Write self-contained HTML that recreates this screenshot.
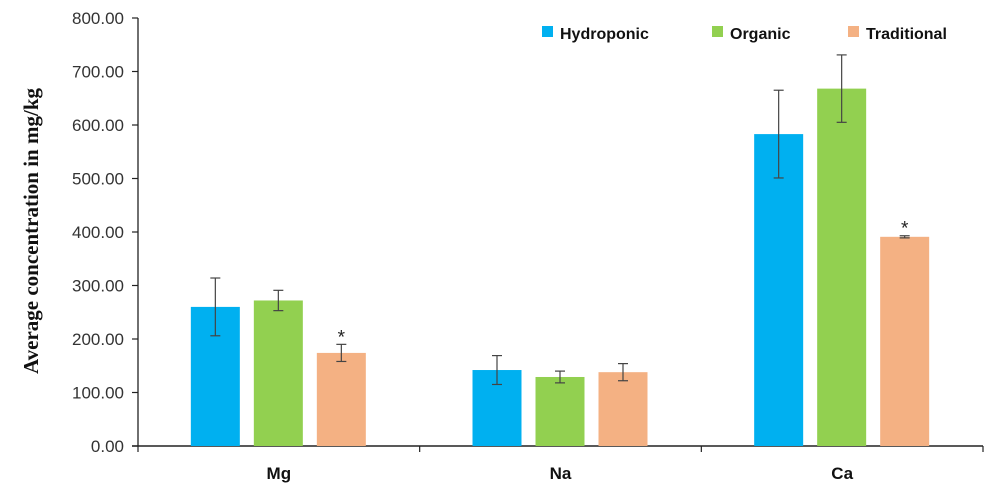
<!DOCTYPE html>
<html><head><meta charset="utf-8"><style>
html,body{margin:0;padding:0;background:#fff;width:1000px;height:486px;overflow:hidden}
svg text{font-family:"Liberation Sans",sans-serif}
</style></head><body>
<svg id="chart" width="1000" height="486" viewBox="0 0 1000 486" xmlns="http://www.w3.org/2000/svg"></svg>
<script>
const categories = ["Mg","Na","Ca"];
const seriesNames = ["Hydroponic","Organic","Traditional"];
const hydroponic = [260, 142, 583];
const organic = [272, 129, 668];
const traditional = [174, 138, 391];
const hydroponicErr = [54, 27, 82];
const organicErr = [19, 11, 63];
const traditionalErr = [16, 16, 2];
const significant = [true, false, true];
const yTicks = [0,100,200,300,400,500,600,700,800];
const yTickLabels = ["0.00","100.00","200.00","300.00","400.00","500.00","600.00","700.00","800.00"];

const NS="http://www.w3.org/2000/svg";
const svg=document.getElementById('chart');
const x0=138, x1=983, yBase=446, yTop=18, yMax=800;
const colors=["#00b0f0","#92d050","#f4b183"];
const series=[hydroponic,organic,traditional];
const errs=[hydroponicErr,organicErr,traditionalErr];
function yScale(v){return yBase-(v/yMax)*(yBase-yTop);}
const groupW=(x1-x0)/categories.length;
function groupStart(i){return x0+i*groupW;}
const barW=49, stride=63;
function barX(ci,si){return groupStart(ci)+groupW/2-88+si*stride;}
function mk(tag,attrs,parent){const e=document.createElementNS(NS,tag);for(const k in attrs)e.setAttribute(k,attrs[k]);(parent||svg).appendChild(e);return e;}

let g=mk('g',{});


mk('line',{x1:x0,y1:yTop,x2:x0,y2:yBase,stroke:'#222','stroke-width':1.3},g);
yTicks.forEach((v,i)=>{
  const y=yScale(v);
  mk('line',{x1:x0-6,y1:y,x2:x0,y2:y,stroke:'#222','stroke-width':1.2},g);
  const t=mk('text',{x:124,y:y+6,'text-anchor':'end','font-size':17,fill:'#333'},g);
  
  
  t.textContent=yTickLabels[i];
});
let gx=mk('g',{});


mk('line',{x1:x0-6,y1:yBase,x2:x1,y2:yBase,stroke:'#222','stroke-width':1.5},gx);
for(let i=0;i<=categories.length;i++){
  const x=groupStart(i);
  mk('line',{x1:x,y1:yBase,x2:x,y2:yBase+6,stroke:'#222','stroke-width':1.2},gx);
}
categories.forEach((c,i)=>{
  const t=mk('text',{x:groupStart(i)+groupW/2,y:479,'text-anchor':'middle','font-size':17,'font-weight':'bold',fill:'#111'},gx);
  
  
  t.textContent=c;
});
categories.forEach((c,ci)=>{
  series.forEach((s,si)=>{
    const x=barX(ci,si), y=yScale(s[ci]);
    const r=mk('rect',{x:x,y:y,width:barW,height:yBase-y,fill:colors[si]});
    
    
    const cx=x+barW/2, e=errs[si][ci];
    const ge=mk('g',{stroke:'#444','stroke-width':1.2});
    
    
    mk('line',{x1:cx,y1:yScale(s[ci]+e),x2:cx,y2:yScale(s[ci]-e)},ge);
    mk('line',{x1:cx-5,y1:yScale(s[ci]+e),x2:cx+5,y2:yScale(s[ci]+e)},ge);
    mk('line',{x1:cx-5,y1:yScale(s[ci]-e),x2:cx+5,y2:yScale(s[ci]-e)},ge);
    if(si===2 && significant[ci]){
      const st=mk('text',{x:cx,y:yScale(s[ci]+e)-1,'text-anchor':'middle','font-size':19,fill:'#222'});
      
      
      st.textContent='*';
    }
  });
});
const yt=mk('text',{transform:'translate(38,231) rotate(-90)','text-anchor':'middle','font-size':21,'font-weight':'bold',fill:'#111',style:'font-family:"Liberation Serif",serif'});


yt.textContent='Average concentration in mg/kg';
const legX=[542,712,848];
const gl=mk('g',{});


seriesNames.forEach((n,i)=>{
  const ge=mk('g',{},gl);
  
  
  mk('rect',{x:legX[i],y:26,width:11,height:11,fill:colors[i]},ge);
  const t=mk('text',{x:legX[i]+18,y:39,'font-size':16,'font-weight':'bold',fill:'#111'},ge);
  t.textContent=n;
});
</script>
</body></html>
